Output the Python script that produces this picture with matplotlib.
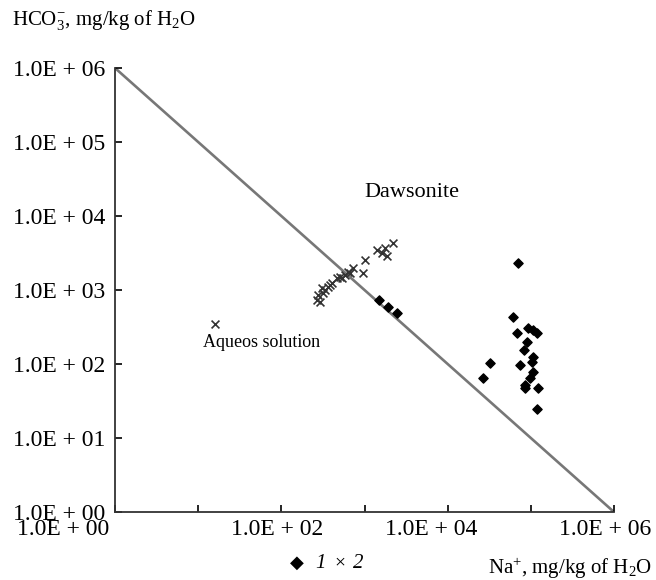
import matplotlib
matplotlib.use('Agg')
import matplotlib.pyplot as plt
from matplotlib.transforms import ScaledTranslation

plt.rcParams['font.family'] = ['Liberation Serif', 'DejaVu Serif']
plt.rcParams['mathtext.fontset'] = 'custom'
plt.rcParams['mathtext.rm'] = 'Liberation Serif'
plt.rcParams['mathtext.it'] = 'Liberation Serif:italic'

# Series 1 (diamonds): Na+ and HCO3- in mg/kg of H2O
na_1 = [1490, 1910, 2450,
        69800, 60800, 67900, 92000, 106000, 118000, 89500, 82400, 106000,
        103000, 73800, 32100, 26500, 106000, 97300, 84700, 84700, 121000,
        118000]
hco3_1 = [733, 589, 489,
          2317, 432, 262, 306, 288, 262, 198, 155, 124,
          106, 97, 103, 65, 78, 65, 52, 47, 47,
          25]

# Series 2 (crosses)
na_2 = [16, 2190, 1760, 1410, 1620, 1860, 1010, 957, 726, 631, 581, 506,
        466, 405, 363, 334, 308, 275, 268, 291, 316, 384, 535, 668]
hco3_2 = [347, 4320, 3700, 3470, 3160, 2880, 2540, 1700, 1980, 1750, 1600,
          1500, 1450, 1240, 1100, 1000, 1060, 855, 733, 688, 911, 1170, 1450,
          1700]

# Dawsonite / solution boundary
line_na = [1, 1e6]
line_hco3 = [1e6, 1]

ticks = [1e0, 1e1, 1e2, 1e3, 1e4, 1e5, 1e6]
y_labels = ['1.0E + 00', '1.0E + 01', '1.0E + 02', '1.0E + 03',
            '1.0E + 04', '1.0E + 05', '1.0E + 06']
x_labels = ['1.0E + 00', '', '1.0E + 02', '', '1.0E + 04', '', '1.0E + 06']

fig = plt.figure(figsize=(6.56, 5.8), dpi=100)
ax = fig.add_axes([115 / 656, 68 / 580, 499 / 656, 444 / 580])

ax.plot(line_na, line_hco3, color='#777777', lw=1.9, zorder=1)
ax.scatter(na_2, hco3_2, marker='x', s=32, color='#333333', linewidths=1.2, zorder=2)
ax.scatter(na_1, hco3_1, marker='D', s=22, color='black', zorder=3)

ax.set_xscale('log')
ax.set_yscale('log')
ax.set_xlim(1, 1e6)
ax.set_ylim(1, 1e6)
ax.set_xticks(ticks)
ax.set_xticklabels(x_labels)
ax.set_yticks(ticks)
ax.set_yticklabels(y_labels)
ax.minorticks_off()
ax.tick_params(direction='in', length=5, width=1.2, labelsize=17, pad=7)
ax.tick_params(axis='x', pad=5)

for side in ['top', 'right']:
    ax.spines[side].set_visible(False)
for side in ['left', 'bottom']:
    ax.spines[side].set_linewidth(1.3)
    ax.spines[side].set_color('#333333')

# shift x tick labels like in the original
shifts = [-52, 0, -4, 0, -16, 0, -9]
for lab, dx in zip(ax.get_xticklabels(), shifts):
    lab.set_transform(lab.get_transform() + ScaledTranslation(dx / 100, 0, fig.dpi_scale_trans))

ax.text(3700, 21000, 'Dawsonite', fontsize=16, ha='center', va='center')
ax.text(58, 195, 'Aqueos solution', fontsize=13, ha='center', va='center')

fig.text(12 / 656, 1 - 20 / 580, 'HCO$_3^{-}$, mg/kg of H$_2$O', fontsize=15,
         ha='left', va='center')
fig.text(652 / 656, 1 - 568 / 580, 'Na$^{+}$, mg/kg of H$_2$O', fontsize=15,
         ha='right', va='center')

# legend
fig.text(297 / 656, 1 - 563 / 580, '\u25c6', fontsize=13, family='DejaVu Sans',
         ha='center', va='center')
fig.text(320 / 656, 1 - 563 / 580, '1', fontsize=15, style='italic',
         ha='center', va='center')
fig.text(340 / 656, 1 - 563 / 580, '\u00d7', fontsize=14, ha='center', va='center')
fig.text(358 / 656, 1 - 563 / 580, '2', fontsize=15, style='italic',
         ha='center', va='center')

fig.savefig('out.png', dpi=100)
